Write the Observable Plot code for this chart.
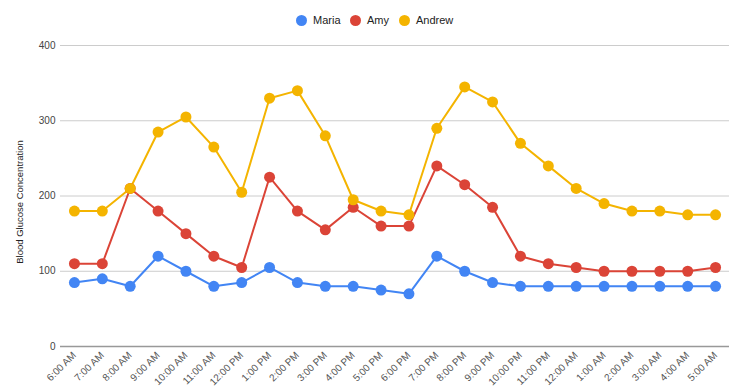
<!DOCTYPE html>
<html>
<head>
<meta charset="utf-8">
<script src="https://cdn.jsdelivr.net/npm/d3@7"></script>
<script src="https://cdn.jsdelivr.net/npm/@observablehq/plot@0.6"></script>
<style>
  body { margin: 0; background: #fff; font-family: "Liberation Sans", Arial, sans-serif; }
  #legend { height: 35px; position: relative; font-size: 11px; color: #222; }
  .item { position: absolute; top: 14px; display: flex; align-items: center; }
  .sw { width: 11px; height: 11px; border-radius: 50%; margin-right: 6px; }
</style>
</head>
<body>
<div id="legend"></div>
<div id="chart"></div>
<script>
const times = ["6:00 AM","7:00 AM","8:00 AM","9:00 AM","10:00 AM","11:00 AM","12:00 PM","1:00 PM","2:00 PM","3:00 PM","4:00 PM","5:00 PM","6:00 PM","7:00 PM","8:00 PM","9:00 PM","10:00 PM","11:00 PM","12:00 AM","1:00 AM","2:00 AM","3:00 AM","4:00 AM","5:00 AM"];
const maria  = [85, 90, 80, 120, 100, 80, 85, 105, 85, 80, 80, 75, 70, 120, 100, 85, 80, 80, 80, 80, 80, 80, 80, 80];
const amy    = [110, 110, 210, 180, 150, 120, 105, 225, 180, 155, 185, 160, 160, 240, 215, 185, 120, 110, 105, 100, 100, 100, 100, 105];
const andrew = [180, 180, 210, 285, 305, 265, 205, 330, 340, 280, 195, 180, 175, 290, 345, 325, 270, 240, 210, 190, 180, 180, 175, 175];
const seriesNames = ["Maria", "Amy", "Andrew"];
const seriesColors = ["#4285F4", "#DB4437", "#F4B400"];
const yTicks = [0, 100, 200, 300, 400];

const seriesValues = [maria, amy, andrew];
const data = [];
seriesNames.forEach((s, i) => times.forEach((t, j) => data.push({series: s, time: t, value: seriesValues[i][j]})));

// legend
const legend = document.getElementById("legend");
const legendX = [296, 350, 399];
seriesNames.forEach((s, i) => {
  const d = document.createElement("div");
  d.className = "item";
  d.style.left = legendX[i] + "px";
  d.innerHTML = `<span class="sw" style="background:${seriesColors[i]}"></span><span>${s}</span>`;
  legend.appendChild(d);
});

const chart = Plot.plot({
  width: 734,
  height: 354,
  marginLeft: 60,
  marginRight: 5,
  marginTop: 10,
  marginBottom: 43,
  style: {fontFamily: "Liberation Sans, Arial, sans-serif", fontSize: "10px", color: "#444", background: "#fff"},
  x: {type: "point", domain: times, padding: 0.5, round: false, label: null},
  y: {domain: [0, 400], ticks: yTicks, label: null},
  color: {domain: seriesNames, range: seriesColors},
  marks: [
    Plot.gridY(yTicks, {stroke: "#ccc", strokeOpacity: 1}),
    Plot.ruleY([0], {stroke: "#999", strokeWidth: 1.5}),
    Plot.axisY(yTicks, {tickSize: 0, tickPadding: 5, label: null, fill: "#444"}),
    Plot.axisX({tickSize: 0, tickRotate: -45, tickPadding: 7, label: null, fill: "#555"}),
    Plot.text(["Blood Glucose Concentration"], {frameAnchor: "left", dx: -41, dy: 6, rotate: -90, textAnchor: "middle", fill: "#222", fontSize: 9.5}),
    Plot.line(data, {x: "time", y: "value", z: "series", stroke: "series", strokeWidth: 2}),
    Plot.dot(data, {x: "time", y: "value", fill: "series", r: 5.5})
  ]
});
document.getElementById("chart").appendChild(chart);
</script>
</body>
</html>
